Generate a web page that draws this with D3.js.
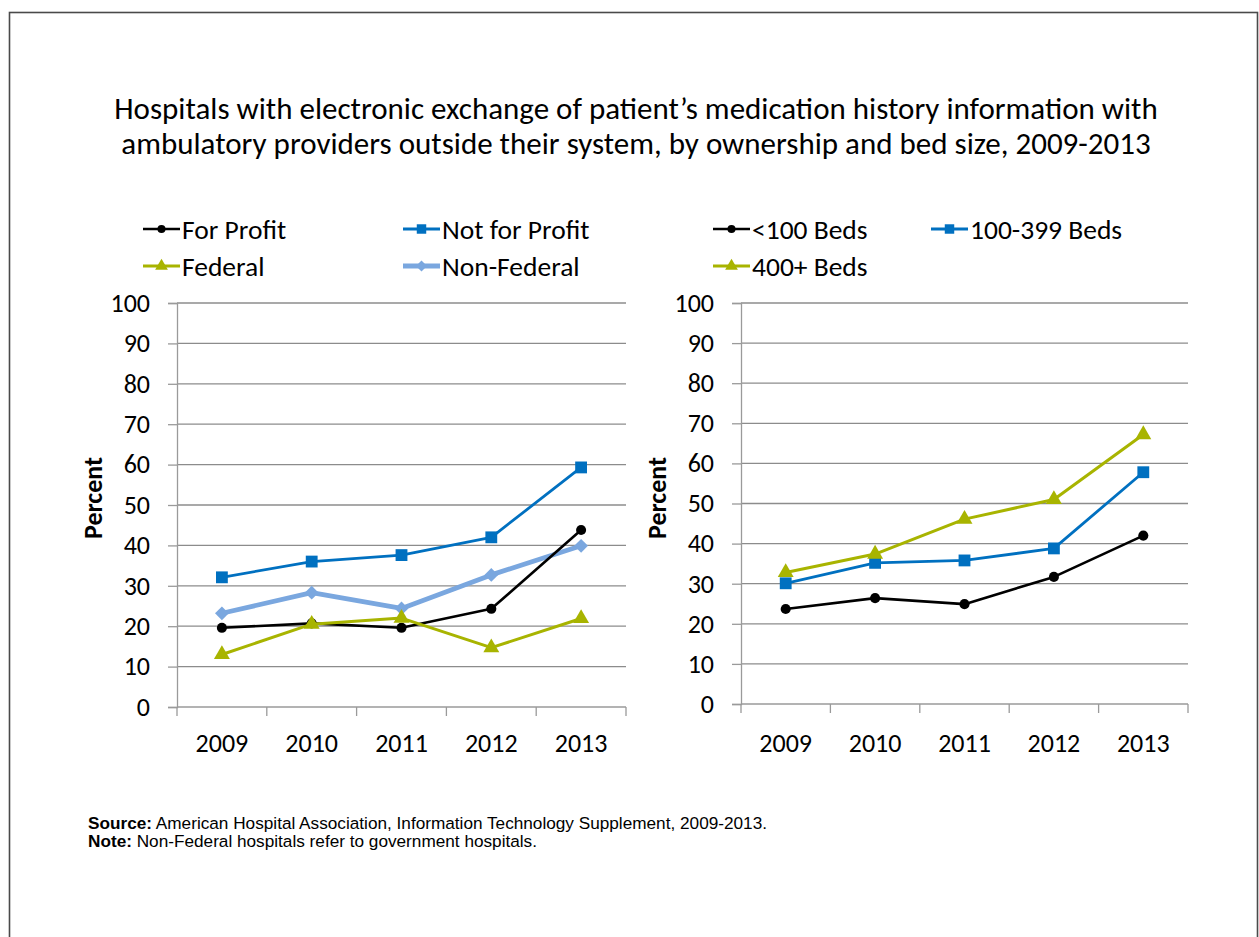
<!DOCTYPE html>
<html>
<head>
<meta charset="utf-8">
<script src="https://cdn.jsdelivr.net/npm/d3@7"></script>
<style>
    body { margin: 0; background: #fff; }
    svg { display: block; font-family: Carlito, Calibri, Lato, sans-serif; }
    .gridLine { stroke: #8c8c8c; stroke-width: 1.3; }
    .axisLine { stroke: #9a9a9a; stroke-width: 1.3; fill: none; }
    .tickLabel { fill: #000; font-size: 26px; }
    .legendText { fill: #000; font-size: 27.5px; }
    .axisTitle { fill: #000; font-size: 26px; font-weight: bold; }
    .chartTitle { fill: #000; font-size: 31px; }
    .footNote { font-family: Arial, "Liberation Sans", sans-serif; font-size: 17.2px; fill: #000; }
</style>
</head>
<body>
<script>
// data
var years = ["2009", "2010", "2011", "2012", "2013"];
var yTicks = [0, 10, 20, 30, 40, 50, 60, 70, 80, 90, 100];

var ownershipNames = ["For Profit", "Not for Profit", "Federal", "Non-Federal"];
var forProfit = [19.6, 20.7, 19.6, 24.3, 43.8];
var notForProfit = [32.1, 36.0, 37.6, 42.0, 59.3];
var federal = [13.0, 20.5, 22.0, 14.7, 21.9];
var nonFederal = [23.2, 28.3, 24.4, 32.7, 39.9];

var bedNames = ["<100 Beds", "100-399 Beds", "400+ Beds"];
var beds100 = [23.7, 26.4, 24.9, 31.7, 42.0];
var beds100to399 = [30.1, 35.2, 35.8, 38.8, 57.8];
var beds400 = [32.8, 37.4, 46.1, 51.0, 67.2];

var titleLines = [
    "Hospitals with electronic exchange of patient\u2019s medication history information with",
    "ambulatory providers outside their system, by ownership and bed size, 2009-2013"
];

(function(){

    var width = 1259, height = 937;

    var svg = d3.select("body")
        .append("svg")
        .attr("width", width)
        .attr("height", height);

    //outer frame
    svg.append("rect")
        .attr("x", 9.5)
        .attr("y", 12.5)
        .attr("width", 1248)
        .attr("height", 940)
        .attr("fill", "none")
        .attr("stroke", "#4a4a4a")
        .attr("stroke-width", 1.6);

    //title
    svg.append("text")
        .attr("class", "chartTitle")
        .attr("text-anchor", "middle")
        .selectAll("tspan")
        .data(titleLines)
        .enter()
        .append("tspan")
        .attr("x", 636)
        .attr("y", function(d, i){ return 119 + i * 35; })
        .text(function(d){ return d; });

    var styles = {
        circle: { color: "#000000", width: 2.6 },
        square: { color: "#0070C0", width: 2.8 },
        triangle: { color: "#A8B400", width: 3 },
        diamond: { color: "#7AA7DF", width: 4.8 }
    };

    var ownershipSeries = [
        { name: ownershipNames[0], values: forProfit, shape: "circle" },
        { name: ownershipNames[1], values: notForProfit, shape: "square" },
        { name: ownershipNames[2], values: federal, shape: "triangle" },
        { name: ownershipNames[3], values: nonFederal, shape: "diamond" }
    ];
    var bedSeries = [
        { name: bedNames[0], values: beds100, shape: "circle" },
        { name: bedNames[1], values: beds100to399, shape: "square" },
        { name: bedNames[2], values: beds400, shape: "triangle" }
    ];

    //draw order so lines overlap like the original
    drawPanel({ left: 177, right: 626, top: 303, bottom: 707, labelX: 93,
        legend: [[143, 229], [403, 229], [143, 266], [403, 266]] },
        ownershipSeries, [3, 1, 0, 2]);
    drawPanel({ left: 741, right: 1188, top: 303, bottom: 704, labelX: 657,
        legend: [[713, 229], [931, 229], [713, 266]] },
        bedSeries, [1, 0, 2]);

    //footnotes
    var notes = [["Source:", " American Hospital Association, Information Technology Supplement, 2009-2013."],
                 ["Note:", " Non-Federal hospitals refer to government hospitals."]];
    notes.forEach(function(n, i){
        var t = svg.append("text")
            .attr("class", "footNote")
            .attr("x", 88)
            .attr("y", 829 + i * 18);
        t.append("tspan").attr("font-weight", "bold").text(n[0]);
        t.append("tspan").text(n[1]);
    });

    function markerPath(shape){
        if (shape == "circle") return d3.symbol().type(d3.symbolCircle).size(80)();
        if (shape == "square") return d3.symbol().type(d3.symbolSquare).size(140)();
        if (shape == "triangle") return d3.symbol().type(d3.symbolTriangle).size(110)();
        return d3.symbol().type(d3.symbolSquare).size(95)();
    }

    function markerTransform(shape){
        return shape == "diamond" ? " rotate(45)" : "";
    }

    function drawPanel(box, series, order){
        var x = d3.scaleBand()
            .domain(years)
            .range([box.left, box.right]);

        var y = d3.scaleLinear()
            .domain([0, 100])
            .range([box.bottom, box.top]);

        var g = svg.append("g");

        //gridlines
        g.selectAll(".gridLine")
            .data(yTicks.slice(1))
            .enter()
            .append("line")
            .attr("class", "gridLine")
            .attr("x1", box.left)
            .attr("x2", box.right)
            .attr("y1", function(d){ return y(d); })
            .attr("y2", function(d){ return y(d); });

        //left axis with outward ticks
        var yAxis = d3.axisLeft(y)
            .tickValues(yTicks)
            .tickSize(9)
            .tickPadding(18);
        var ya = g.append("g")
            .attr("transform", "translate(" + box.left + ",0)")
            .call(yAxis)
            .attr("font-family", null)
            .attr("font-size", null);
        ya.select(".domain").attr("class", "axisLine");
        ya.selectAll(".tick line").attr("stroke", "#9a9a9a").attr("stroke-width", 1.3);
        ya.selectAll(".tick text").attr("class", "tickLabel");

        //bottom axis: ticks between categories
        var xb = g.append("g");
        xb.append("line")
            .attr("class", "axisLine")
            .attr("x1", box.left)
            .attr("x2", box.right)
            .attr("y1", box.bottom)
            .attr("y2", box.bottom);
        xb.selectAll(".xTick")
            .data(years.concat(["end"]))
            .enter()
            .append("line")
            .attr("class", "axisLine")
            .attr("x1", function(d, i){ return box.left + i * x.step(); })
            .attr("x2", function(d, i){ return box.left + i * x.step(); })
            .attr("y1", box.bottom)
            .attr("y2", box.bottom + 9);
        xb.selectAll(".xLabel")
            .data(years)
            .enter()
            .append("text")
            .attr("class", "tickLabel")
            .attr("text-anchor", "middle")
            .attr("x", function(d){ return x(d) + x.bandwidth() / 2; })
            .attr("y", 752)
            .text(function(d){ return d; });

        //y axis title
        g.append("text")
            .attr("class", "axisTitle")
            .attr("text-anchor", "middle")
            .attr("transform", "translate(" + (box.labelX + 9) + ",498) rotate(-90)")
            .text("Percent");

        var line = d3.line()
            .x(function(d, i){ return x(years[i]) + x.bandwidth() / 2; })
            .y(function(d){ return y(d); });

        order.forEach(function(k){
            var s = series[k];
            var st = styles[s.shape];
            g.append("path")
                .datum(s.values)
                .attr("fill", "none")
                .attr("stroke", st.color)
                .attr("stroke-width", st.width)
                .attr("stroke-linejoin", "round")
                .attr("d", line);
            g.selectAll(".mk" + k)
                .data(s.values)
                .enter()
                .append("path")
                .attr("d", markerPath(s.shape))
                .attr("fill", st.color)
                .attr("transform", function(d, i){
                    return "translate(" + (x(years[i]) + x.bandwidth() / 2) + "," + y(d) + ")" + markerTransform(s.shape);
                });
        });

        //legend
        series.forEach(function(s, i){
            var st = styles[s.shape];
            var p = box.legend[i];
            var lg = svg.append("g").attr("transform", "translate(" + p[0] + "," + p[1] + ")");
            lg.append("line")
                .attr("x1", 0)
                .attr("x2", 37)
                .attr("stroke", st.color)
                .attr("stroke-width", st.width);
            lg.append("path")
                .attr("d", markerPath(s.shape))
                .attr("fill", st.color)
                .attr("transform", "translate(18.5,0) scale(0.8)" + markerTransform(s.shape));
            lg.append("text")
                .attr("class", "legendText")
                .attr("x", 39)
                .attr("dy", "0.35em")
                .text(s.name);
        });
    }
})();
</script>
</body>
</html>
